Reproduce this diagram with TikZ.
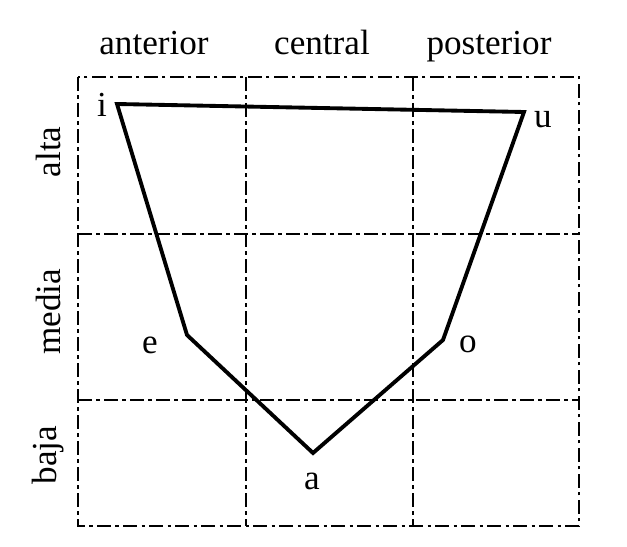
\documentclass[tikz,border=0pt]{standalone}
\usepackage{fontspec}
\setmainfont{Liberation Serif}
\usepackage{tikz}
\usetikzlibrary{positioning}

\begin{document}
\begin{tikzpicture}[
        x=0.02cm, y=-0.02cm,
        every node/.style={align=center, inner sep=0pt},
        collbl/.style={font=\fontsize{20}{24}\selectfont, anchor=base},
        rowlbl/.style={font=\fontsize{20}{24}\selectfont, rotate=90, anchor=center},
        vowel/.style={font=\fontsize{20}{24}\selectfont, anchor=base},
        gridline/.style={line width=1.6pt, dash pattern=on 8pt off 2.5pt on 1.8pt off 2.5pt},
        trap/.style={line width=2.2pt, line join=miter}
    ]
        \useasboundingbox (0,0) rectangle (627,547);

        % cuadricula
        \draw[gridline] (78,77) rectangle (579,526);
        \draw[gridline] (246,77) -- (246,526);
        \draw[gridline] (413,77) -- (413,526);
        \draw[gridline] (78,234) -- (579,234);
        \draw[gridline] (78,400) -- (579,400);

        \node[collbl] (ant) at (154,55) {anterior};
        \node[collbl] (cen) at (322,55) {central};
        \node[collbl] (pos) at (489,55) {posterior};

        \node[rowlbl] (alta)  at (48,152) {alta};
        \node[rowlbl] (media) at (48,312) {media};
        \node[rowlbl] (baja)  at (48,455) {baja};

        % vocales
        \coordinate (vi) at (117,104);
        \coordinate (vu) at (524,112);
        \coordinate (vo) at (443,340);
        \coordinate (va) at (313,453);
        \coordinate (ve) at (187,335);

        \draw[trap] (vi) -- (vu) -- (vo) -- (va) -- (ve) -- cycle;

        \node[vowel] (li) at (102,117) {i};
        \node[vowel] (lu) at (543,128) {u};
        \node[vowel] (le) at (150,354) {e};
        \node[vowel] (lo) at (468,353) {o};
        \node[vowel] (la) at (312,490) {a};
    \end{tikzpicture}
\end{document}
